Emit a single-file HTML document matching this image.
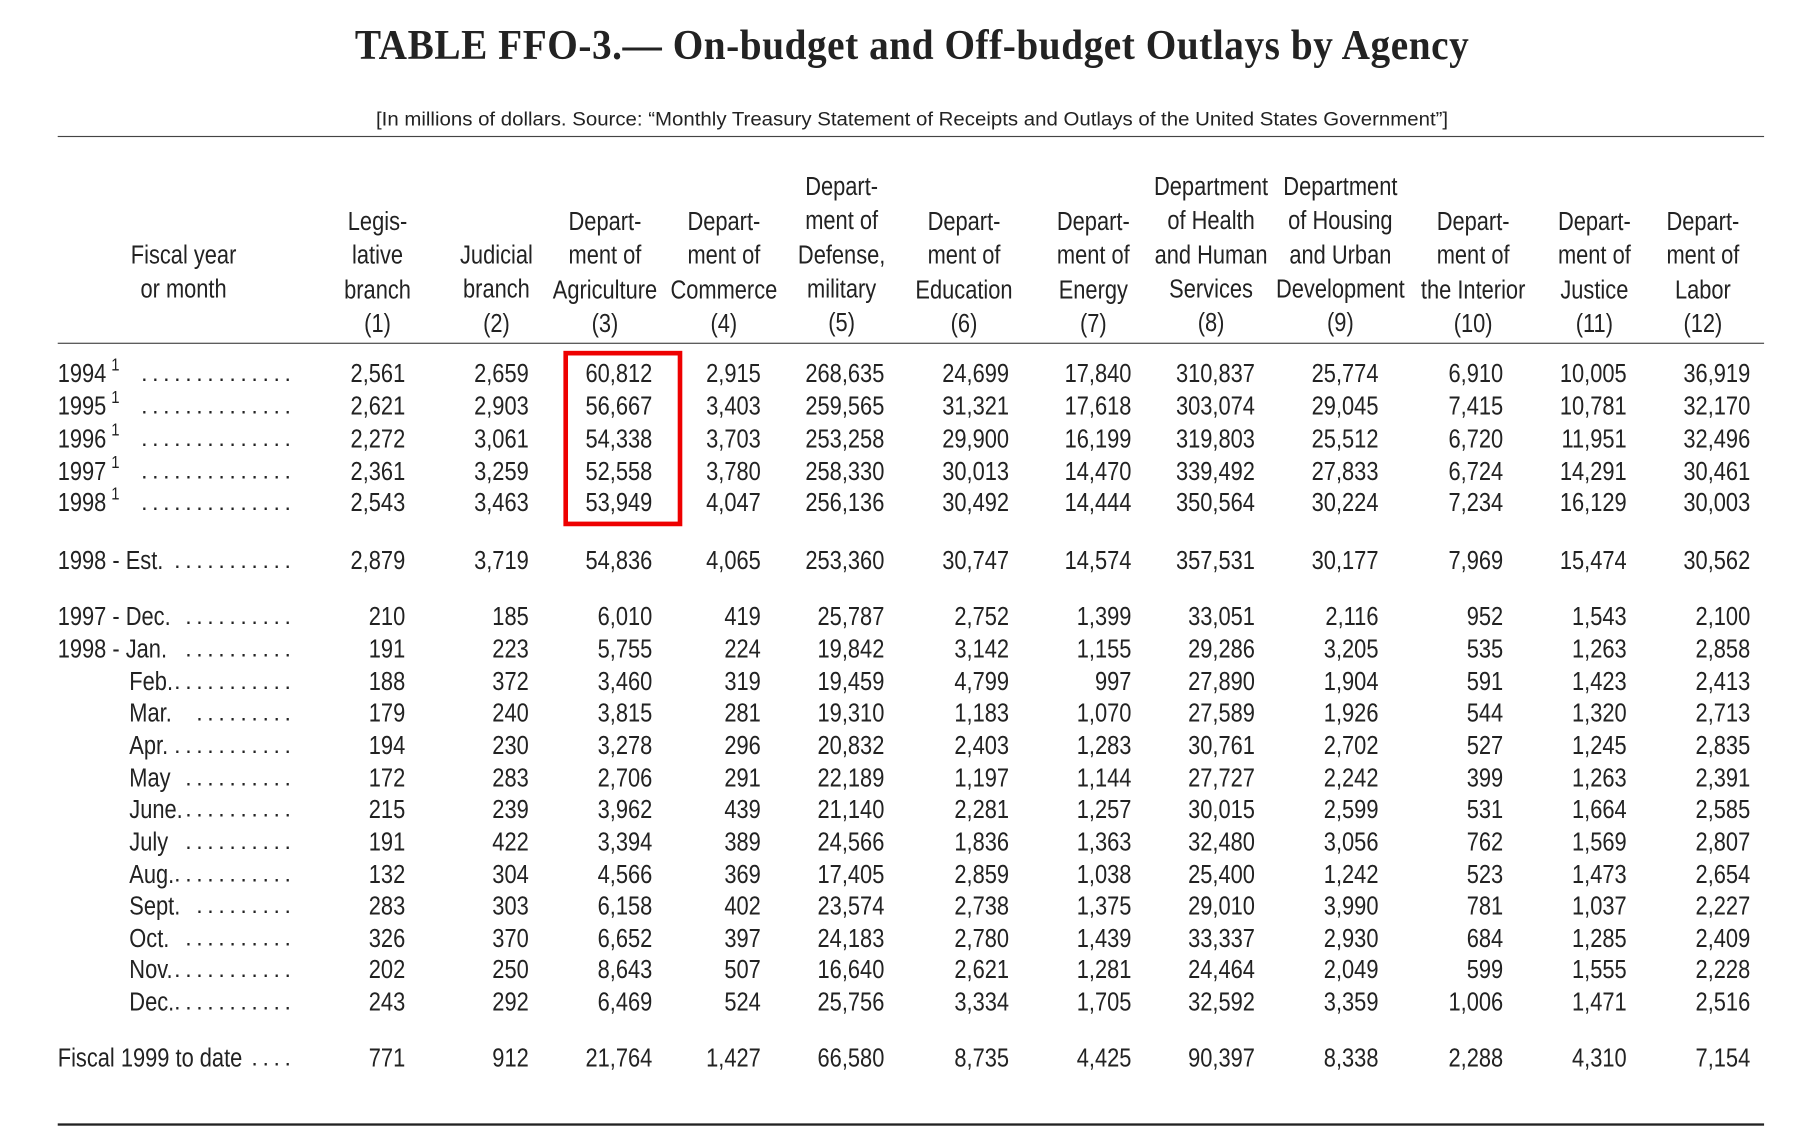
<!DOCTYPE html>
<html><head><meta charset="utf-8"><style>
html,body{margin:0;padding:0;background:#fff;width:1812px;height:1128px;overflow:hidden}
#w{position:absolute;left:0;top:0;width:1560px;height:971px;transform:scale(1.1545,1.1617);transform-origin:0 0;font-family:"Liberation Sans",sans-serif;color:#222}
.t{position:absolute;left:10px;width:1560px;text-align:center}
.ln{position:absolute;left:50px;width:1478px;background:#444}
.r{position:absolute;left:0;width:1560px;height:28px;line-height:28px;font-size:22px}
.r span{position:absolute;width:110px;text-align:right;transform:scaleX(.86);transform-origin:right center;white-space:nowrap}
.r .lb{left:50px;text-align:left;width:auto;transform-origin:left center}
.r .d{left:106px;width:150px;transform:none;text-align:right;letter-spacing:4px;font-size:20px}
sup{font-size:15px;vertical-align:baseline;position:relative;top:-10px;margin-left:5px;line-height:0}
.h{position:absolute;width:140px;text-align:center;font-size:22px;line-height:29.3px;transform:scaleX(.86);white-space:nowrap}
.c1{left:241px}.c2{left:348px}.c3{left:455px}.c4{left:549px}.c5{left:656px}.c6{left:764px}.c7{left:870px}.c8{left:977px}.c9{left:1084px}.c10{left:1192px}.c11{left:1299px}.c12{left:1406px}
</style></head><body><div id="w">
<div class="t" style="top:18px;font:bold 36px 'Liberation Serif',serif;transform:scaleX(.945);letter-spacing:.5px">TABLE FFO-3.— On-budget and Off-budget Outlays by Agency</div>
<div class="t" style="top:93px;font-size:17px;transform:scaleX(1.04)">[In millions of dollars. Source: “Monthly Treasury Statement of Receipts and Outlays of the United States Government”]</div>
<div class="ln" style="top:117px;height:1px"></div>
<div class="ln" style="top:295px;height:1px"></div>
<div class="ln" style="top:967px;height:2px;background:#222"></div>

<div class="h" style="left:89px;top:205px">Fiscal year<br>or month</div>
<div class="h" style="left:257px;top:176px">Legis-<br>lative<br>branch<br>(1)</div>
<div class="h" style="left:360px;top:205px">Judicial<br>branch<br>(2)</div>
<div class="h" style="left:454px;top:176px">Depart-<br>ment of<br>Agriculture<br>(3)</div>
<div class="h" style="left:557px;top:176px">Depart-<br>ment of<br>Commerce<br>(4)</div>
<div class="h" style="left:659px;top:146px">Depart-<br>ment of<br>Defense,<br>military<br>(5)</div>
<div class="h" style="left:765px;top:176px">Depart-<br>ment of<br>Education<br>(6)</div>
<div class="h" style="left:877px;top:176px">Depart-<br>ment of<br>Energy<br>(7)</div>
<div class="h" style="left:979px;top:146px">Department<br>of Health<br>and Human<br>Services<br>(8)</div>
<div class="h" style="left:1091px;top:146px">Department<br>of Housing<br>and Urban<br>Development<br>(9)</div>
<div class="h" style="left:1206px;top:176px">Depart-<br>ment of<br>the Interior<br>(10)</div>
<div class="h" style="left:1311px;top:176px">Depart-<br>ment of<br>Justice<br>(11)</div>
<div class="h" style="left:1405px;top:176px">Depart-<br>ment of<br>Labor<br>(12)</div>

<div style="position:absolute;left:488px;top:302px;width:95px;height:143px;border:4px solid #e00"></div>

<div class="r" style="top:308px"><span class="lb">1994<sup>1</sup></span><span class="d">..............</span><span class="c1">2,561</span><span class="c2">2,659</span><span class="c3">60,812</span><span class="c4">2,915</span><span class="c5">268,635</span><span class="c6">24,699</span><span class="c7">17,840</span><span class="c8">310,837</span><span class="c9">25,774</span><span class="c10">6,910</span><span class="c11">10,005</span><span class="c12">36,919</span></div>
<div class="r" style="top:336px"><span class="lb">1995<sup>1</sup></span><span class="d">..............</span><span class="c1">2,621</span><span class="c2">2,903</span><span class="c3">56,667</span><span class="c4">3,403</span><span class="c5">259,565</span><span class="c6">31,321</span><span class="c7">17,618</span><span class="c8">303,074</span><span class="c9">29,045</span><span class="c10">7,415</span><span class="c11">10,781</span><span class="c12">32,170</span></div>
<div class="r" style="top:364px"><span class="lb">1996<sup>1</sup></span><span class="d">..............</span><span class="c1">2,272</span><span class="c2">3,061</span><span class="c3">54,338</span><span class="c4">3,703</span><span class="c5">253,258</span><span class="c6">29,900</span><span class="c7">16,199</span><span class="c8">319,803</span><span class="c9">25,512</span><span class="c10">6,720</span><span class="c11">11,951</span><span class="c12">32,496</span></div>
<div class="r" style="top:392px"><span class="lb">1997<sup>1</sup></span><span class="d">..............</span><span class="c1">2,361</span><span class="c2">3,259</span><span class="c3">52,558</span><span class="c4">3,780</span><span class="c5">258,330</span><span class="c6">30,013</span><span class="c7">14,470</span><span class="c8">339,492</span><span class="c9">27,833</span><span class="c10">6,724</span><span class="c11">14,291</span><span class="c12">30,461</span></div>
<div class="r" style="top:419px"><span class="lb">1998<sup>1</sup></span><span class="d">..............</span><span class="c1">2,543</span><span class="c2">3,463</span><span class="c3">53,949</span><span class="c4">4,047</span><span class="c5">256,136</span><span class="c6">30,492</span><span class="c7">14,444</span><span class="c8">350,564</span><span class="c9">30,224</span><span class="c10">7,234</span><span class="c11">16,129</span><span class="c12">30,003</span></div>

<div class="r" style="top:469px"><span class="lb">1998 - Est.</span><span class="d">...........</span><span class="c1">2,879</span><span class="c2">3,719</span><span class="c3">54,836</span><span class="c4">4,065</span><span class="c5">253,360</span><span class="c6">30,747</span><span class="c7">14,574</span><span class="c8">357,531</span><span class="c9">30,177</span><span class="c10">7,969</span><span class="c11">15,474</span><span class="c12">30,562</span></div>

<div class="r" style="top:517px"><span class="lb">1997 - Dec.</span><span class="d">..........</span><span class="c1">210</span><span class="c2">185</span><span class="c3">6,010</span><span class="c4">419</span><span class="c5">25,787</span><span class="c6">2,752</span><span class="c7">1,399</span><span class="c8">33,051</span><span class="c9">2,116</span><span class="c10">952</span><span class="c11">1,543</span><span class="c12">2,100</span></div>
<div class="r" style="top:545px"><span class="lb">1998 - Jan.</span><span class="d">..........</span><span class="c1">191</span><span class="c2">223</span><span class="c3">5,755</span><span class="c4">224</span><span class="c5">19,842</span><span class="c6">3,142</span><span class="c7">1,155</span><span class="c8">29,286</span><span class="c9">3,205</span><span class="c10">535</span><span class="c11">1,263</span><span class="c12">2,858</span></div>
<div class="r" style="top:573px"><span class="lb" style="left:112px">Feb.</span><span class="d">...........</span><span class="c1">188</span><span class="c2">372</span><span class="c3">3,460</span><span class="c4">319</span><span class="c5">19,459</span><span class="c6">4,799</span><span class="c7">997</span><span class="c8">27,890</span><span class="c9">1,904</span><span class="c10">591</span><span class="c11">1,423</span><span class="c12">2,413</span></div>
<div class="r" style="top:600px"><span class="lb" style="left:112px">Mar.</span><span class="d">.........</span><span class="c1">179</span><span class="c2">240</span><span class="c3">3,815</span><span class="c4">281</span><span class="c5">19,310</span><span class="c6">1,183</span><span class="c7">1,070</span><span class="c8">27,589</span><span class="c9">1,926</span><span class="c10">544</span><span class="c11">1,320</span><span class="c12">2,713</span></div>
<div class="r" style="top:628px"><span class="lb" style="left:112px">Apr.</span><span class="d">...........</span><span class="c1">194</span><span class="c2">230</span><span class="c3">3,278</span><span class="c4">296</span><span class="c5">20,832</span><span class="c6">2,403</span><span class="c7">1,283</span><span class="c8">30,761</span><span class="c9">2,702</span><span class="c10">527</span><span class="c11">1,245</span><span class="c12">2,835</span></div>
<div class="r" style="top:656px"><span class="lb" style="left:112px">May</span><span class="d">..........</span><span class="c1">172</span><span class="c2">283</span><span class="c3">2,706</span><span class="c4">291</span><span class="c5">22,189</span><span class="c6">1,197</span><span class="c7">1,144</span><span class="c8">27,727</span><span class="c9">2,242</span><span class="c10">399</span><span class="c11">1,263</span><span class="c12">2,391</span></div>
<div class="r" style="top:683px"><span class="lb" style="left:112px">June.</span><span class="d">..........</span><span class="c1">215</span><span class="c2">239</span><span class="c3">3,962</span><span class="c4">439</span><span class="c5">21,140</span><span class="c6">2,281</span><span class="c7">1,257</span><span class="c8">30,015</span><span class="c9">2,599</span><span class="c10">531</span><span class="c11">1,664</span><span class="c12">2,585</span></div>
<div class="r" style="top:711px"><span class="lb" style="left:112px">July</span><span class="d">..........</span><span class="c1">191</span><span class="c2">422</span><span class="c3">3,394</span><span class="c4">389</span><span class="c5">24,566</span><span class="c6">1,836</span><span class="c7">1,363</span><span class="c8">32,480</span><span class="c9">3,056</span><span class="c10">762</span><span class="c11">1,569</span><span class="c12">2,807</span></div>
<div class="r" style="top:739px"><span class="lb" style="left:112px">Aug.</span><span class="d">...........</span><span class="c1">132</span><span class="c2">304</span><span class="c3">4,566</span><span class="c4">369</span><span class="c5">17,405</span><span class="c6">2,859</span><span class="c7">1,038</span><span class="c8">25,400</span><span class="c9">1,242</span><span class="c10">523</span><span class="c11">1,473</span><span class="c12">2,654</span></div>
<div class="r" style="top:766px"><span class="lb" style="left:112px">Sept.</span><span class="d">.........</span><span class="c1">283</span><span class="c2">303</span><span class="c3">6,158</span><span class="c4">402</span><span class="c5">23,574</span><span class="c6">2,738</span><span class="c7">1,375</span><span class="c8">29,010</span><span class="c9">3,990</span><span class="c10">781</span><span class="c11">1,037</span><span class="c12">2,227</span></div>
<div class="r" style="top:794px"><span class="lb" style="left:112px">Oct.</span><span class="d">..........</span><span class="c1">326</span><span class="c2">370</span><span class="c3">6,652</span><span class="c4">397</span><span class="c5">24,183</span><span class="c6">2,780</span><span class="c7">1,439</span><span class="c8">33,337</span><span class="c9">2,930</span><span class="c10">684</span><span class="c11">1,285</span><span class="c12">2,409</span></div>
<div class="r" style="top:821px"><span class="lb" style="left:112px">Nov.</span><span class="d">...........</span><span class="c1">202</span><span class="c2">250</span><span class="c3">8,643</span><span class="c4">507</span><span class="c5">16,640</span><span class="c6">2,621</span><span class="c7">1,281</span><span class="c8">24,464</span><span class="c9">2,049</span><span class="c10">599</span><span class="c11">1,555</span><span class="c12">2,228</span></div>
<div class="r" style="top:849px"><span class="lb" style="left:112px">Dec.</span><span class="d">...........</span><span class="c1">243</span><span class="c2">292</span><span class="c3">6,469</span><span class="c4">524</span><span class="c5">25,756</span><span class="c6">3,334</span><span class="c7">1,705</span><span class="c8">32,592</span><span class="c9">3,359</span><span class="c10">1,006</span><span class="c11">1,471</span><span class="c12">2,516</span></div>

<div class="r" style="top:897px"><span class="lb">Fiscal 1999 to date</span><span class="d">....</span><span class="c1">771</span><span class="c2">912</span><span class="c3">21,764</span><span class="c4">1,427</span><span class="c5">66,580</span><span class="c6">8,735</span><span class="c7">4,425</span><span class="c8">90,397</span><span class="c9">8,338</span><span class="c10">2,288</span><span class="c11">4,310</span><span class="c12">7,154</span></div>
</div></body></html>
